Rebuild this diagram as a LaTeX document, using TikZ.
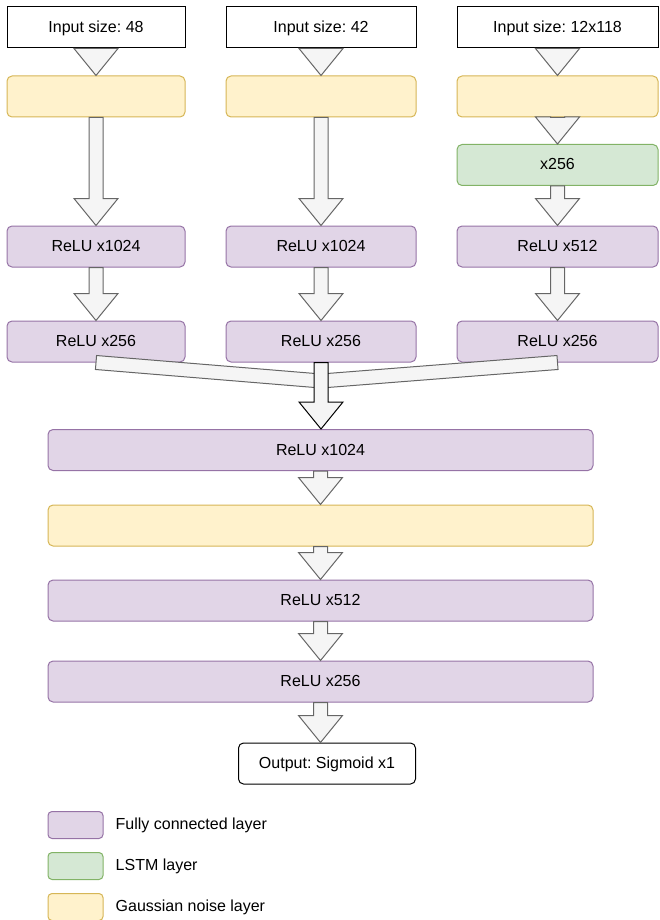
\documentclass[tikz,border=0pt]{standalone}
\usepackage{fontspec}
\setmainfont{Liberation Sans}
\usetikzlibrary{
    positioning,
    calc
}
\frenchspacing
\definecolor{fcfill}{HTML}{E1D5E7}
\definecolor{fcdraw}{HTML}{9673A6}
\definecolor{lstmfill}{HTML}{D5E8D4}
\definecolor{lstmdraw}{HTML}{82B366}
\definecolor{noisefill}{HTML}{FFF2CC}
\definecolor{noisedraw}{HTML}{D6B656}
\definecolor{arrowfill}{HTML}{F5F5F5}
\definecolor{arrowdraw}{HTML}{666666}

% block arrow straight down from one node to the next
\newcommand{\flexdown}[3][flex]{%
    \draw[#1] let \p1=(#2.south), \p2=(#3.north) in
        (\x1-7pt,\y1) -- (\x1+7pt,\y1) -- (\x1+7pt,\y2+27pt) -- (\x1+22pt,\y2+27pt)
        -- (\x1,\y2) -- (\x1-22pt,\y2+27pt) -- (\x1-7pt,\y2+27pt) -- cycle;}
% flat band from a node to a merge point
\newcommand{\flexband}[2]{%
    \draw[flex] ($(#1.south)!7pt!90:(#2)$) -- ($(#2)!7pt!-90:(#1.south)$)
        -- ($(#2)!7pt!90:(#1.south)$) -- ($(#1.south)!7pt!-90:(#2)$) -- cycle;}

\begin{document}
\begin{tikzpicture}[
        x=1pt, y=-1pt,
        box/.style={rectangle, draw, rounded corners=5pt, minimum height=41pt, inner sep=0pt, align=center, font=\fontsize{16}{19}\selectfont, text height=13pt, text depth=3pt, line width=1pt},
        inbox/.style={box, sharp corners, fill=white, draw=black},
        fc/.style={box, fill=fcfill, draw=fcdraw},
        lstm/.style={box, fill=lstmfill, draw=lstmdraw},
        noise/.style={box, fill=noisefill, draw=noisedraw},
        flex/.style={draw=arrowdraw, fill=arrowfill, line width=1pt, line join=miter},
        key/.style={rectangle, draw, rounded corners=4pt, minimum width=55pt, minimum height=27pt, inner sep=0pt, line width=1pt},
        keytext/.style={font=\fontsize{16}{19}\selectfont, inner sep=0pt, anchor=west}
    ]
        \useasboundingbox (0,0) rectangle (659,920);

        % Row 1: Inputs
        \node[inbox, minimum width=178pt] (in1) at (96,27.5) {Input size: 48};
        \node[inbox, minimum width=190pt] (in2) at (321,27.5) {Input size: 42};
        \node[inbox, minimum width=201pt] (in3) at (557.5,27.5) {Input size: 12x118};

        % Row 2: Noise
        \node[noise, minimum width=178pt] (gn1) at (96,96.5) {};
        \node[noise, minimum width=190pt] (gn2) at (321,96.5) {};
        \node[noise, minimum width=201pt] (gn3) at (557.5,96.5) {};
        \node[lstm, minimum width=201pt] (lstm3) at (557.5,165) {x256};

        % Row 3: Dense
        \node[fc, minimum width=178pt] (fca1) at (96,246.5) {ReLU x1024};
        \node[fc, minimum width=190pt] (fca2) at (321,246.5) {ReLU x1024};
        \node[fc, minimum width=201pt] (fca3) at (557.5,246.5) {ReLU x512};

        % Row 4: Dense
        \node[fc, minimum width=178pt] (fcb1) at (96,341.5) {ReLU x256};
        \node[fc, minimum width=190pt] (fcb2) at (321,341.5) {ReLU x256};
        \node[fc, minimum width=201pt] (fcb3) at (557.5,341.5) {ReLU x256};

        % Merged stack
        \node[fc, minimum width=545pt] (fcc) at (320.5,450) {ReLU x1024};
        \node[noise, minimum width=545pt] (gnc) at (320.5,525.5) {};
        \node[fc, minimum width=545pt] (fcd) at (320.5,600.5) {ReLU x512};
        \node[fc, minimum width=545pt] (fce) at (320.5,681.5) {ReLU x256};
        \node[box, fill=white, draw=black, minimum width=177pt] (out) at (327,763.5) {Output: Sigmoid x1};

        % Arrows
        \flexdown{in1}{gn1}
        \flexdown{in2}{gn2}
        \flexdown{in3}{gn3}
        \flexdown{gn1}{fca1}
        \flexdown{gn2}{fca2}
        \flexdown{gn3}{lstm3}
        \flexdown{lstm3}{fca3}
        \flexdown{fca1}{fcb1}
        \flexdown{fca2}{fcb2}
        \flexdown{fca3}{fcb3}

        % Merge
        \coordinate (merge) at (321,381);
        \flexband{fcb1}{merge}
        \flexband{fcb3}{merge}
        \flexdown[flex, draw=black]{fcb2}{fcc}

        \flexdown{fcc}{gnc}
        \flexdown{gnc}{fcd}
        \flexdown{fcd}{fce}
        \flexdown{fce}{out}

        % Legend
        \node[key, fill=fcfill, draw=fcdraw] (kfc) at (75.5,825) {};
        \node[keytext, right=12pt of kfc] (tfc) {Fully connected layer};
        \node[key, fill=lstmfill, draw=lstmdraw] (klstm) at (75.5,866) {};
        \node[keytext, right=12pt of klstm] (tlstm) {LSTM layer};
        \node[key, fill=noisefill, draw=noisedraw] (knoise) at (75.5,907) {};
        \node[keytext, right=12pt of knoise] (tnoise) {Gaussian noise layer};
    \end{tikzpicture}
\end{document}
